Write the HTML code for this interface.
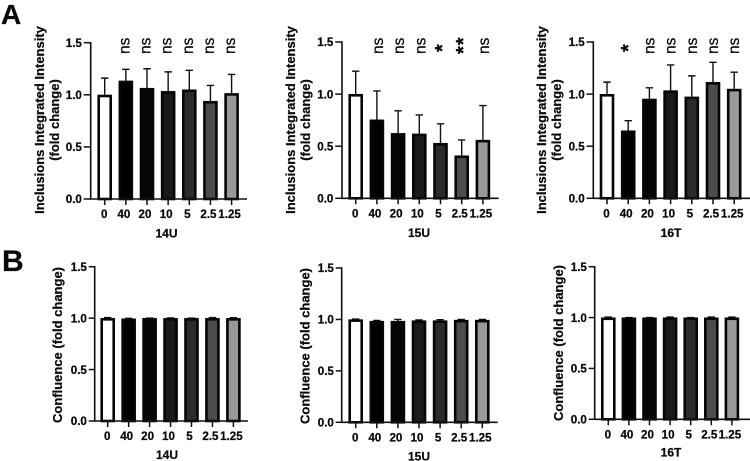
<!DOCTYPE html>
<html>
<head>
<meta charset="utf-8">
<style>
html,body{margin:0;padding:0;background:#fff;width:750px;height:461px;overflow:hidden}
svg{display:block;font-family:"Liberation Sans",sans-serif;filter:blur(0.35px)}
text{fill:#0a0a0a;stroke:#0a0a0a;stroke-width:0.25px}
</style>
</head>
<body>
<svg id="fig" width="750" height="461" viewBox="0 0 750 461" xmlns="http://www.w3.org/2000/svg">
<text x="1" y="24" font-size="28" font-weight="bold">A</text>
<text x="2" y="271" font-size="30" font-weight="bold">B</text>
</svg>
<script>
var categories = ['0','40','20','10','5','2.5','1.25'];
var yTicks = ['0.0','0.5','1.0','1.5'];
var fills = ['#ffffff','#000000','#060606','#1a1a1a','#2b2b2b','#4c4c4c','#999999'];

var a14Means = [1.0,1.135,1.065,1.035,1.05,0.94,1.015];
var a14Tops  = [1.16,1.245,1.25,1.22,1.235,1.09,1.195];
var a14Sig   = ['ns','ns','ns','ns','ns','ns'];

var a15Means = [1.0,0.755,0.625,0.62,0.53,0.41,0.56];
var a15Tops  = [1.22,1.03,0.84,0.80,0.715,0.56,0.89];
var a15Sig   = ['ns','ns','ns','*','**','ns'];

var a16Means = [1.0,0.65,0.955,1.035,0.975,1.115,1.05];
var a16Tops  = [1.115,0.745,1.06,1.28,1.175,1.305,1.21];
var a16Sig   = ['*','ns','ns','ns','ns','ns'];

var b14Means = [1.0,0.995,1.0,1.0,1.0,1.0,1.0];
var b14Tops  = [1.005,0.998,1.0,1.002,1.0,1.005,1.004];
var b15Means = [1.0,0.985,0.985,0.99,0.99,0.995,0.995];
var b15Tops  = [1.003,0.99,1.0,0.995,0.998,1.0,1.0];
var b16Means = [1.0,1.0,1.0,1.0,1.0,1.0,1.0];
var b16Tops  = [1.005,1.0,1.0,1.005,1.0,1.005,1.005];

var svgNS = 'http://www.w3.org/2000/svg';
var fig = document.getElementById('fig');

function mk(tag, attrs, parent, txt) {
  var e = document.createElementNS(svgNS, tag);
  for (var k in attrs) e.setAttribute(k, attrs[k]);
  if (txt !== undefined) e.textContent = txt;
  parent.appendChild(e);
  return e;
}

function drawChart(p) {
  var g = mk('g', {}, fig);
  
  

  var yScale = function (v) { return p.y0 + (p.y15 - p.y0) * v / 1.5; };
  var xScale = function (i) { return p.c0 + i * p.step; };
  var barW = 12;
  var inset = 1.2;

  p.means.forEach(function (m, i) {
    var cx = xScale(i), top = yScale(p.tops[i]), my = yScale(m);
    var err = mk('path', {d:'M'+cx+' '+my+'V'+top+'M'+(cx-3.7)+' '+top+'H'+(cx+3.7), stroke:'#111', 'stroke-width':1.4, fill:'none'}, g);
    
    
    var bar = mk('rect', {x:cx-barW/2, y:my+inset, width:barW, height:p.y0-my-inset, fill:fills[i], stroke:'#060606', 'stroke-width':2.6}, g);
    
    
    var tick = mk('line', {x1:cx, x2:cx, y1:p.y0, y2:p.y0+6, stroke:'#111', 'stroke-width':1.5}, g);
    
    
    var lab = mk('text', {x:cx+(i === 0 ? -0.5 : -2), y:p.y0+19, 'font-size':11.6, 'font-weight':'bold', 'text-anchor':'middle'}, g, categories[i]);
    
    
  });

  var yAxis = mk('line', {x1:p.ax, x2:p.ax, y1:yScale(1.5)-0.7, y2:p.y0+0.7, stroke:'#111', 'stroke-width':1.6}, g);
  
  
  var xAxis = mk('line', {x1:p.ax, x2:p.end, y1:p.y0, y2:p.y0, stroke:'#111', 'stroke-width':1.6}, g);
  
  

  yTicks.forEach(function (t) {
    var y = yScale(parseFloat(t));
    var tk = mk('line', {x1:p.ax-p.tickLen, x2:p.ax, y1:y, y2:y, stroke:'#111', 'stroke-width':1.5}, g);
    
    
    var tl = mk('text', {x:p.ax-p.tickLen-1.8, y:y+4.2, 'font-size':11.6, 'font-weight':'bold', 'text-anchor':'end'}, g, t);
    
    
  });

  var title = mk('text', {x:p.titleX, y:p.y0+p.titleDy, 'font-size':12, 'font-weight':'bold', 'text-anchor':'middle'}, g, p.title);
  
  

  p.yLabels.forEach(function (s, n) {
    var tx = p.ylx + n * 15.2;
    var yl = mk('text', {transform:'translate('+tx+' '+p.yly+') rotate(-90)', 'font-size':p.ylSize, 'font-weight':'bold', 'text-anchor':'middle'}, g, s);
    
    
  });

  if (p.sig) {
    p.sig.forEach(function (s, i) {
      var cx = xScale(i + 1);
      var isNs = s === 'ns';
      var sx = isNs ? cx + p.sigDx + 4 : cx + p.starDx;
      var sy = isNs ? 54 : (s === '**' ? 54 : 52);
      var st = mk('text', {transform:'translate('+sx+' '+sy+') rotate(-90)', 'font-size':isNs ? 15.5 : 20, 'font-weight':isNs ? 'normal' : 'bold', 'letter-spacing':isNs ? 0 : 1}, g, s);
      
      
    });
  }
}

var inclusionLabels = ['Inclusions Integrated Intensity','(fold change)'];
var confluenceLabels = ['Confluence (fold change)'];

drawChart({name:'chart-a-14u',title:'14U',means:a14Means,tops:a14Tops,sig:a14Sig,sigDx:-0.5,starDx:8.4,tickLen:7,ax:90.7,end:247,y0:199,y15:42.7,c0:104.7,step:21.15,titleX:166.5,titleDy:38.5,yLabels:inclusionLabels,ylx:44,yly:120,ylSize:13});
drawChart({name:'chart-a-15u',title:'15U',means:a15Means,tops:a15Tops,sig:a15Sig,sigDx:2,starDx:8.4,tickLen:6.8,ax:342,end:498.7,y0:198.3,y15:42,c0:355.7,step:21.2,titleX:419,titleDy:38.5,yLabels:inclusionLabels,ylx:295,yly:120,ylSize:13});
drawChart({name:'chart-a-16t',title:'16T',means:a16Means,tops:a16Tops,sig:a16Sig,sigDx:1,starDx:7,tickLen:6.8,ax:593.3,end:750,y0:198.3,y15:42,c0:607,step:21.2,titleX:671,titleDy:38.5,yLabels:inclusionLabels,ylx:546,yly:120,ylSize:13});
drawChart({name:'chart-b-14u',title:'14U',means:b14Means,tops:b14Tops,tickLen:6,ax:94.7,end:248,y0:421,y15:266.7,c0:107.7,step:20.95,titleX:167,titleDy:38,yLabels:confluenceLabels,ylx:62,yly:345,ylSize:13});
drawChart({name:'chart-b-15u',title:'15U',means:b15Means,tops:b15Tops,tickLen:6,ax:341.7,end:497.7,y0:422.3,y15:268,c0:355.7,step:21.1,titleX:419,titleDy:38,yLabels:confluenceLabels,ylx:309.5,yly:346,ylSize:13});
drawChart({name:'chart-b-16t',title:'16T',means:b16Means,tops:b16Tops,tickLen:6,ax:594.7,end:750,y0:419.3,y15:266.7,c0:608.3,step:20.6,titleX:671,titleDy:37,yLabels:confluenceLabels,ylx:563,yly:343,ylSize:13});
</script>
</body>
</html>
